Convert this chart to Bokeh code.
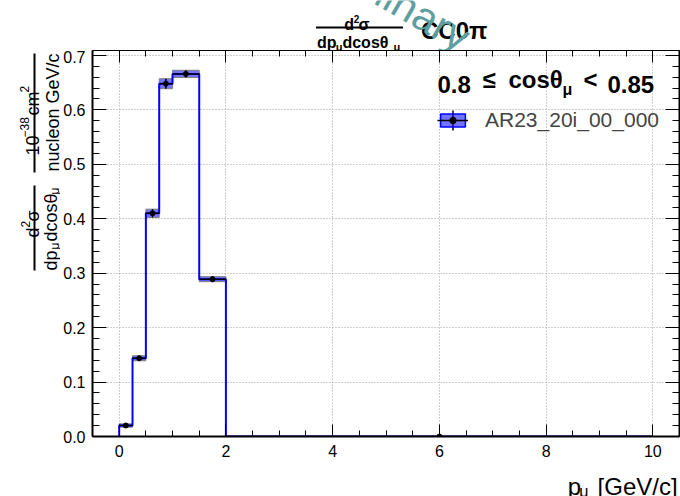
from bokeh.plotting import figure
from bokeh.layouts import row, column
from bokeh.models import (ColumnDataSource, Range1d, LinearAxis, Label, Arrow,
                          SingleIntervalTicker, PrintfTickFormatter, CustomJSTickFormatter,
                          Legend, LegendItem)
from bokeh.embed import file_html
from bokeh.resources import INLINE

# ---------------- data ----------------
bin_edges = [0.0, 0.25, 0.5, 0.75, 1.0, 1.5, 2.0, 10.0]
xsec = [0.0202, 0.1437, 0.410, 0.648, 0.666, 0.289, 0.0]
xsec_err = [0.0030, 0.0046, 0.0076, 0.0092, 0.0067, 0.0046, 0.0]
series_label = "AR23_20i_00_000"
x_tick_step = 2
y_tick_step = 0.1

W, H = 680, 496
FONT = "Liberation Sans"
YLAB_W = 60          # left strip with the y title
TITLE_H = 50         # strip above the frame
XT_H = 33            # strip below with the x title
MAIN_W = W - YLAB_W
MAIN_H = H - TITLE_H - XT_H
FRAME_L = 92         # frame left edge in page pixels
FRAME_B = 436        # frame bottom edge in page pixels

# ---------------- main figure ----------------
p = figure(width=MAIN_W, height=MAIN_H, output_backend="svg", toolbar_location=None,
           x_range=Range1d(-0.5, 10.5), y_range=Range1d(0, 0.709),
           min_border_left=FRAME_L - YLAB_W, min_border_right=1, min_border_top=0, min_border_bottom=27,
           background_fill_color="white", border_fill_color="white")
p.outline_line_color = None

xt = SingleIntervalTicker(interval=x_tick_step, num_minor_ticks=4)
yt = SingleIntervalTicker(interval=y_tick_step, num_minor_ticks=5)


def style_axis(ax, ticker, maj, mnr, lw, labels=True):
    ax.ticker = ticker
    ax.axis_line_width = lw
    ax.axis_line_color = "black"
    ax.major_tick_in = maj
    ax.major_tick_out = 0
    ax.minor_tick_in = mnr
    ax.minor_tick_out = 0
    ax.major_tick_line_color = "black"
    ax.minor_tick_line_color = "black"
    ax.major_tick_line_width = 1
    ax.minor_tick_line_width = 1
    if labels:
        ax.major_label_text_font = FONT
        ax.major_label_text_font_size = "16px"
        ax.major_label_text_color = "black"
    else:
        ax.formatter = CustomJSTickFormatter(code="return ''")
        ax.major_label_text_font_size = "1px"
        ax.major_label_standoff = 0


xa = p.xaxis[0]
ya = p.yaxis[0]
style_axis(xa, xt, 12, 6, 2)
style_axis(ya, yt, 14, 7, 2)
xa.major_label_standoff = 8
ya.major_label_standoff = 7
ya.formatter = PrintfTickFormatter(format="%.1f")

ax_top = LinearAxis()
style_axis(ax_top, SingleIntervalTicker(interval=x_tick_step, num_minor_ticks=4), 12, 6, 1, labels=False)
p.add_layout(ax_top, "above")
ax_right = LinearAxis()
style_axis(ax_right, SingleIntervalTicker(interval=y_tick_step, num_minor_ticks=5), 14, 7, 2, labels=False)
p.add_layout(ax_right, "right")

for g in (p.xgrid[0], p.ygrid[0]):
    g.grid_line_color = "#a0a0a0"
    g.grid_line_dash = "1 2"
    g.grid_line_width = 1

# ---------------- histogram ----------------
lo = bin_edges[:-1]
hi = bin_edges[1:]
src = ColumnDataSource(dict(
    lo=lo, hi=hi, val=xsec,
    bot=[v - e for v, e in zip(xsec, xsec_err)],
    top=[v + e for v, e in zip(xsec, xsec_err)],
    mid=[(a + b) / 2 for a, b in zip(lo, hi)],
))
p.quad(left="lo", right="hi", bottom="bot", top="top", source=src,
       fill_color="#0000ff", fill_alpha=0.55, line_color="#808080", line_width=1)
step_x = [bin_edges[0]] + bin_edges
step_y = [0.0] + xsec + [0.0]
p.step(step_x, step_y, mode="after", line_color="#0000ff", line_width=2)
p.segment(x0="lo", x1="hi", y0="val", y1="val", source=src, line_color="black", line_width=1.5)
p.segment(x0="mid", x1="mid", y0="bot", y1="top", source=src, line_color="black", line_width=1.5)
p.scatter("mid", "val", source=src, size=5, color="black")

# ---------------- legend (proxy renderers carry only the style) ----------------
nan = float("nan")
leg_box = p.quad(left=[nan], right=[nan], bottom=[nan], top=[nan], fill_color="#0000ff", fill_alpha=0.55,
                 line_color="#0000ff", line_width=1.5)
leg_line = p.line([nan], [nan], line_color="black", line_width=1.5)
leg_dot = p.scatter([nan], [nan], marker="circle", size=5, color="black")
legend = Legend(items=[LegendItem(label=series_label, renderers=[leg_box, leg_line, leg_dot])],
                location=(345, 304), padding=0, margin=0, spacing=0,
                border_line_color=None, background_fill_alpha=0,
                glyph_width=31, glyph_height=16, label_standoff=17,
                label_text_font=FONT, label_text_font_size="21px", label_height=16)
p.add_layout(legend)


def flab(text, x, y, size, bold=False):
    """Label inside the main frame, given in page pixels."""
    p.add_layout(Label(x=x - FRAME_L, y=FRAME_B - y, x_units="screen", y_units="screen", text=text,
                       text_font=FONT, text_font_size=f"{size}px",
                       text_font_style="bold" if bold else "normal", text_color="black"))


p.add_layout(Arrow(end=None, x_start=452.5 - FRAME_L, y_start=FRAME_B - 130, x_end=452.5 - FRAME_L,
                   y_end=FRAME_B - 110, start_units="screen", end_units="screen",
                   line_color="black", line_width=1.5))

# header
flab("0.8", 437, 92, 24, bold=True)
flab("≤", 482, 92, 24, bold=True)
flab("cosθ", 508, 92, 24, bold=True)
flab("μ", 562, 97, 16, bold=True)
flab("<", 583, 92, 24, bold=True)
flab("0.85", 607, 92, 24, bold=True)


# ---------------- text strips ----------------
def strip(w, h, x0, y0):
    f = figure(width=w, height=h, output_backend="svg", toolbar_location=None,
               x_range=Range1d(x0, x0 + w), y_range=Range1d(y0 + h, y0),
               x_axis_type=None, y_axis_type=None,
               min_border_left=0, min_border_right=0, min_border_top=0, min_border_bottom=0,
               background_fill_color="white", border_fill_color="white")
    f.outline_line_color = None
    f.grid.visible = False
    return f


def lab(f, text, x, y, size, bold=False, angle=0, align="left", color="black"):
    f.add_layout(Label(x=x, y=y, text=text, text_font=FONT, text_font_size=f"{size}px",
                       text_font_style="bold" if bold else "normal",
                       angle=angle, angle_units="deg", text_align=align,
                       text_baseline="alphabetic", text_color=color))


# title strip
t = strip(MAIN_W, TITLE_H, YLAB_W, 0)
lab(t, "d", 326, 24, 16, bold=True)
lab(t, "2", 336, 18, 10, bold=True)
lab(t, "σ", 341, 24, 16, bold=True)
t.segment(x0=[296], x1=[388], y0=[27], y1=[27], line_color="black", line_width=2)
lab(t, "dp", 297, 42, 16, bold=True)
lab(t, "μ", 317, 46, 11, bold=True)
lab(t, "dcosθ", 324, 42, 16, bold=True)
lab(t, "μ", 378, 46, 11, bold=True)
lab(t, "CC0π", 407, 30, 24, bold=True)
lab(t, "Preliminary", 455, 40, 42, angle=-30, align="right", color="#5f9ea0")

# x title strip
xs = strip(MAIN_W, XT_H, YLAB_W, H - XT_H)
lab(xs, "p", 562, 486, 24)
lab(xs, "μ", 574, 491, 16)
lab(xs, "[GeV/c]", 678, 486, 24, align="right")

# y title strip
ys = strip(YLAB_W, H, 0, 0)
lab(ys, "10", 32, 155, 18, angle=90)
lab(ys, "−38", 24, 137, 12, angle=90)
lab(ys, "cm", 32, 115, 18, angle=90)
lab(ys, "2", 24, 92, 12, angle=90)
ys.segment(x0=[34], x1=[34], y0=[172], y1=[53], line_color="black", line_width=2)
lab(ys, "nucleon GeV/c", 52, 112, 18, angle=90, align="center")

lab(ys, "d", 32, 237, 18, angle=90)
lab(ys, "2", 25, 227, 12, angle=90)
lab(ys, "σ", 32, 221, 18, angle=90)
ys.segment(x0=[34], x1=[34], y0=[270], y1=[185], line_color="black", line_width=2)
lab(ys, "dp", 50, 270, 18, angle=90)
lab(ys, "μ", 54, 249, 12, angle=90)
lab(ys, "dcosθ", 50, 241, 18, angle=90)
lab(ys, "μ", 54, 194, 12, angle=90)

layout = row(ys, column(t, p, xs))
open("out.html", "w").write(file_html(layout, INLINE))
